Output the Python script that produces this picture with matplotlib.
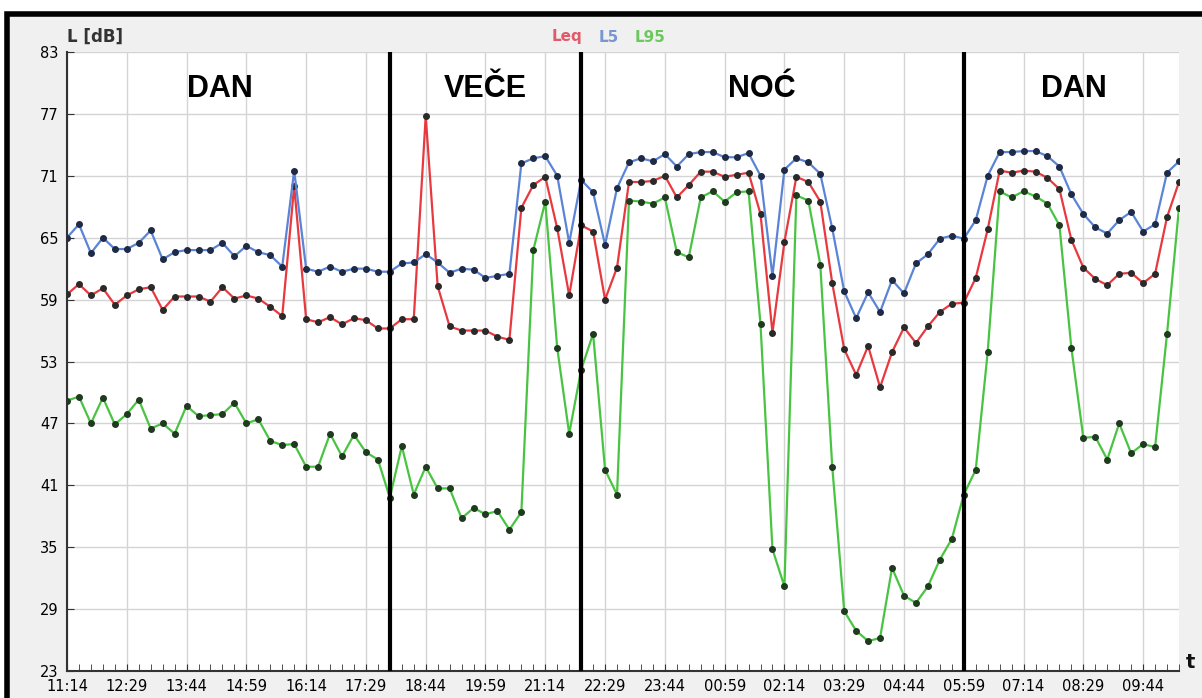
import matplotlib
matplotlib.use("Agg")
import matplotlib.pyplot as plt
import matplotlib.patches as mpatches

# 15-minute samples starting at 11:14
leq = [59.5, 60.5, 59.4, 60.1, 58.5, 59.4, 60.0, 60.2, 58.0, 59.3,
       59.3, 59.3, 58.8, 60.2, 59.1, 59.4, 59.1, 58.3, 57.4, 70.0,
       57.1, 56.8, 57.3, 56.6, 57.2, 57.0, 56.2, 56.2, 57.1, 57.1,
       76.8, 60.3, 56.4, 56.0, 56.0, 56.0, 55.4, 55.1, 67.9, 70.1,
       70.9, 65.9, 59.4, 66.2, 65.6, 59.0, 62.1, 70.4, 70.4, 70.5,
       71.0, 68.9, 70.1, 71.4, 71.4, 70.9, 71.1, 71.3, 67.3, 55.8,
       64.6, 70.9, 70.4, 68.5, 60.6, 54.2, 51.7, 54.5, 50.5, 53.9,
       56.3, 54.8, 56.4, 57.8, 58.6, 58.7, 61.1, 65.8, 71.5, 71.3,
       71.5, 71.4, 70.8, 69.7, 64.8, 62.1, 61.0, 60.4, 61.5, 61.6,
       60.6, 61.5, 67.0, 70.4]
l5 = [65.0, 66.3, 63.5, 65.0, 63.9, 63.9, 64.5, 65.7, 62.9, 63.6,
      63.8, 63.8, 63.8, 64.5, 63.2, 64.2, 63.6, 63.3, 62.2, 71.5,
      62.0, 61.7, 62.2, 61.7, 62.0, 62.0, 61.7, 61.7, 62.5, 62.6,
      63.4, 62.6, 61.6, 62.0, 61.9, 61.1, 61.3, 61.5, 72.2, 72.7,
      72.9, 71.0, 64.5, 70.6, 69.4, 64.3, 69.8, 72.3, 72.7, 72.4,
      73.1, 71.9, 73.1, 73.3, 73.3, 72.8, 72.8, 73.2, 71.0, 61.3,
      71.6, 72.7, 72.3, 71.2, 65.9, 59.8, 57.2, 59.7, 57.8, 60.9,
      59.6, 62.5, 63.4, 64.9, 65.2, 64.9, 66.7, 71.0, 73.3, 73.3,
      73.4, 73.4, 72.9, 71.9, 69.2, 67.3, 66.0, 65.4, 66.7, 67.5,
      65.6, 66.3, 71.3, 72.4]
l95 = [49.2, 49.6, 47.0, 49.5, 46.9, 47.9, 49.3, 46.5, 47.0, 46.0,
       48.7, 47.7, 47.8, 47.9, 49.0, 47.0, 47.4, 45.3, 44.9, 45.0,
       42.8, 42.8, 46.0, 43.8, 45.9, 44.2, 43.5, 39.8, 44.8, 40.1,
       42.8, 40.7, 40.7, 37.8, 38.8, 38.2, 38.5, 36.7, 38.4, 63.8,
       68.5, 54.3, 46.0, 52.2, 55.7, 42.5, 40.1, 68.6, 68.5, 68.3,
       68.9, 63.6, 63.1, 68.9, 69.5, 68.5, 69.4, 69.5, 56.6, 34.8,
       31.2, 69.1, 68.6, 62.4, 42.8, 28.8, 26.9, 25.9, 26.2, 33.0,
       30.3, 29.6, 31.2, 33.8, 35.8, 40.1, 42.5, 53.9, 69.5, 68.9,
       69.5, 69.0, 68.3, 66.2, 54.3, 45.6, 45.7, 43.5, 47.0, 44.1,
       45.0, 44.7, 55.7, 67.9]

tick_labels = ["11:14", "12:29", "13:44", "14:59", "16:14", "17:29",
               "18:44", "19:59", "21:14", "22:29", "23:44", "00:59",
               "02:14", "03:29", "04:44", "05:59", "07:14", "08:29",
               "09:44"]
# period boundaries (sample index) and labels
boundaries = [27, 43, 75]
periods = ["DAN", "VEČE", "NOĆ", "DAN"]
period_x = [12.8, 35.0, 58.1, 84.2]

x = list(range(len(leq)))

fig = plt.figure(figsize=(12.02, 6.98), dpi=100, facecolor="white")
# gray panel with black frame
fig.patches.append(mpatches.Rectangle((0.006, -0.01), 1.0, 0.99,
                                      transform=fig.transFigure,
                                      facecolor="#f0f0f0", edgecolor="black",
                                      linewidth=4, zorder=-10))

ax = fig.add_axes([67 / 1202, 27 / 698, 1112 / 1202, 619 / 698])
ax.set_facecolor("white")

ax.plot(x, leq, color="#e8393f", lw=1.6, marker="o", ms=4.0,
        mfc="#2a2a2a", mec="#2a2a2a", zorder=3)
ax.plot(x, l5, color="#5b84d6", lw=1.6, marker="o", ms=4.0,
        mfc="#1f2a45", mec="#1f2a45", zorder=3)
ax.plot(x, l95, color="#49c442", lw=1.6, marker="o", ms=4.0,
        mfc="#1f3a1f", mec="#1f3a1f", zorder=3)

for b in boundaries:
    ax.axvline(b, color="black", lw=3, zorder=4)

for px, name in zip(period_x, periods):
    ax.text(px, 79.4, name, ha="center", va="center", fontsize=22,
            fontweight="bold", family="Liberation Sans", zorder=5)

ax.set_xlim(0, 93)
ax.set_ylim(23, 83)
ax.set_yticks(range(23, 84, 6))
ax.set_xticks(range(0, 91, 5))
ax.set_xticklabels(tick_labels)
ax.set_xticks(range(0, 94), minor=True)
ax.grid(True, color="#d4d4d4", lw=1)
ax.set_axisbelow(True)

for s in ["top", "right"]:
    ax.spines[s].set_visible(False)
for s in ["left", "bottom"]:
    ax.spines[s].set_color("#333333")
    ax.spines[s].set_linewidth(1.5)

ax.tick_params(axis="x", which="both", direction="in", length=5,
               color="#333333", labelsize=10.5, pad=6)
ax.tick_params(axis="y", which="major", direction="in", length=5,
               color="#333333", labelsize=10.5, pad=6)

fig.text(67 / 1202, 1 - 37 / 698, "L [dB]", fontsize=12, fontweight="bold",
         ha="left", va="center", color="#333333")
fig.text(1190 / 1202, 1 - 662 / 698, "t", fontsize=14, fontweight="bold",
         ha="center", va="center", color="#111111")

lx, ly = 552 / 1202, 1 - 37 / 698
fig.text(lx, ly, "Leq", color="#e05a6a", fontsize=11,
         fontweight="bold", ha="left", va="center")
fig.text(lx + 47 / 1202, ly, "L5", color="#7896d0", fontsize=11,
         fontweight="bold", ha="left", va="center")
fig.text(lx + 83 / 1202, ly, "L95", color="#6cc85e", fontsize=11,
         fontweight="bold", ha="left", va="center")

fig.savefig("out.png", dpi=100, facecolor=fig.get_facecolor())
